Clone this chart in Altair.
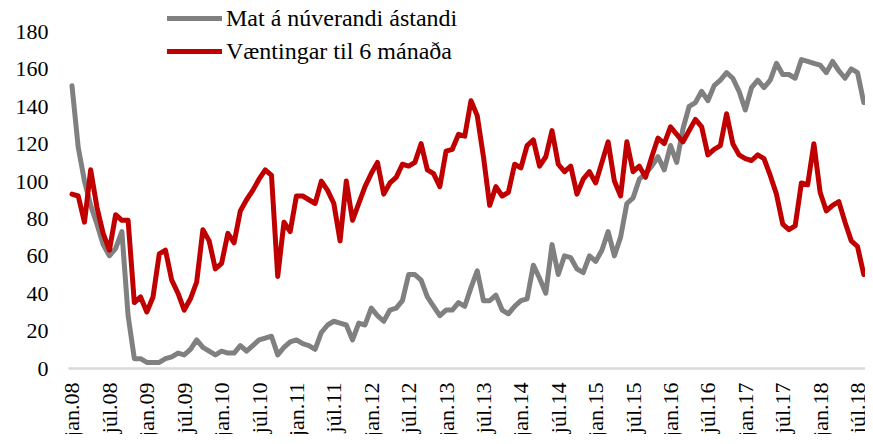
import altair as alt
import pandas as pd

series_names = ["Mat á núverandi ástandi", "Væntingar til 6 mánaða"]
series_colors = ["#808080", "#C00000"]

# Monthly values, jan.08 .. ág.18 (128 months)
mat_nuverandi = [
    151, 118, 100, 87, 77, 66, 60, 64, 73, 28, 5, 5,
    3, 3, 3, 5, 6, 8, 7, 10, 15, 11, 9, 7,
    9, 8, 8, 12, 9, 12, 15, 16, 17, 7, 11, 14,
    15, 13, 12, 10, 19, 23, 25, 24, 23, 15, 24, 23,
    32, 28, 25, 31, 32, 36, 50, 50, 47, 38, 33, 28,
    31, 31, 35, 33, 43, 52, 36, 36, 39, 31, 29, 33,
    36, 37, 55, 48, 40, 66, 50, 60, 59, 53, 51, 60,
    57, 63, 73, 60, 70, 88, 91, 101, 104, 108, 113, 106,
    119, 110, 128, 140, 142, 148, 143, 151, 154, 158, 155, 148,
    138, 150, 154, 150, 154, 163, 157, 157, 155, 165, 164, 163,
    162, 158, 164, 159, 155, 160, 158, 142,
]
vaentingar = [
    93, 92, 78, 106, 86, 72, 63, 82, 79, 79, 35, 38,
    30, 38, 61, 63, 47, 40, 31, 37, 46, 74, 68, 53,
    56, 72, 67, 84, 90, 95, 101, 106, 103, 49, 78, 73,
    92, 92, 90, 88, 100, 95, 88, 68, 100, 79, 88, 97,
    104, 110, 93, 99, 102, 109, 108, 110, 120, 106, 104, 97,
    116, 117, 125, 124, 143, 135, 113, 87, 97, 92, 94, 109,
    107, 119, 122, 108, 113, 127, 109, 105, 108, 93, 101, 105,
    99, 110, 121, 100, 92, 121, 105, 108, 102, 113, 123, 120,
    129, 125, 121, 127, 133, 129, 114, 117, 119, 136, 120, 114,
    112, 111, 114, 112, 103, 93, 77, 74, 76, 99, 98, 120,
    94, 84, 87, 89, 78, 68, 65, 50,
]

tick_labels = [
    "jan.08", "júl.08", "jan.09", "júl.09", "jan.10", "júl.10", "jan.11",
    "júl.11", "jan.12", "júl.12", "jan.13", "júl.13", "jan.14", "júl.14",
    "jan.15", "júl.15", "jan.16", "júl.16", "jan.17", "júl.17", "jan.18",
    "júl.18",
]
tick_positions = [6 * k for k in range(len(tick_labels))]

rows = []
for name, vals in zip(series_names, [mat_nuverandi, vaentingar]):
    for i, v in enumerate(vals):
        rows.append({"idx": i, "series": name, "value": v})
df = pd.DataFrame(rows)

label_expr = "[" + ",".join("'" + t + "'" for t in tick_labels) + "][round(datum.value/6)]"

FONT = "Liberation Serif, Times New Roman, serif"

chart = (
    alt.Chart(df)
    .mark_line(strokeWidth=5, strokeJoin="round", strokeCap="round")
    .encode(
        x=alt.X(
            "idx:Q",
            scale=alt.Scale(domain=[-0.64, 127.2], nice=False, zero=False),
            axis=alt.Axis(
                values=tick_positions,
                labelExpr=label_expr,
                labelAngle=-90,
                labelFont=FONT,
                labelFontSize=22,
                labelColor="black",
                labelPadding=14,
                labelOverlap=False,
                ticks=False,
                grid=False,
                domainColor="#d9d9d9",
                domainWidth=2.5,
                title=None,
            ),
        ),
        y=alt.Y(
            "value:Q",
            scale=alt.Scale(domain=[0, 180], nice=False),
            axis=alt.Axis(
                values=list(range(0, 181, 20)),
                labelFont=FONT,
                labelFontSize=22,
                labelColor="black",
                labelPadding=20,
                domain=False,
                ticks=False,
                grid=False,
                title=None,
            ),
        ),
        color=alt.Color(
            "series:N",
            scale=alt.Scale(domain=series_names, range=series_colors),
            legend=alt.Legend(
                title=None,
                orient="none",
                legendX=113,
                legendY=-26.5,
                padding=0,
                symbolType="M-2.5,0H2.5",
                symbolSize=484,
                symbolStrokeWidth=5,
                labelFont=FONT,
                labelFontSize=24,
                labelColor="black",
                labelOffset=18,
                labelLimit=0,
                rowPadding=7,
                direction="vertical",
            ),
        ),
        order=alt.Order("idx:Q"),
    )
    .properties(
        width=797,
        height=336.5,
        autosize=alt.AutoSizeParams(type="none"),
        padding={"left": 60, "top": 23.5, "right": 0, "bottom": 66},
    )
    .configure_view(stroke=None)
)

chart.save("out.html", embed_options={"renderer": "svg", "actions": False})
